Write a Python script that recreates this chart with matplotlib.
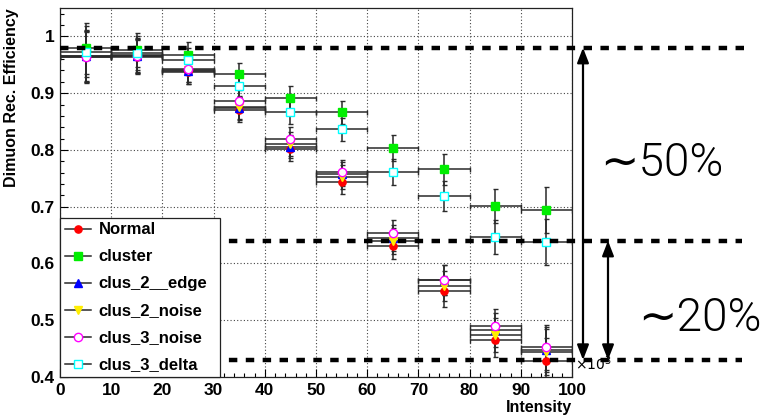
import matplotlib
matplotlib.use("Agg")
import matplotlib.pyplot as plt
from matplotlib.lines import Line2D
from matplotlib.ticker import MultipleLocator, FuncFormatter
import matplotlib.transforms as mtransforms

# ---------------- data ----------------
intensity = [5, 15, 25, 35, 45, 55, 65, 75, 85, 95]          # x10^3, bin centres
bin_half = [5, 5, 5, 5, 5, 5, 5, 5, 5, 5]
normal      = [0.963, 0.963, 0.938, 0.870, 0.802, 0.744, 0.630, 0.551, 0.465, 0.429]
cluster     = [0.979, 0.976, 0.968, 0.933, 0.892, 0.866, 0.804, 0.766, 0.701, 0.694]
clus2_edge  = [0.965, 0.966, 0.939, 0.873, 0.806, 0.757, 0.645, 0.571, 0.483, 0.448]
clus2_noise = [0.966, 0.967, 0.941, 0.875, 0.810, 0.752, 0.640, 0.560, 0.474, 0.444]
clus3_noise = [0.964, 0.965, 0.942, 0.886, 0.819, 0.761, 0.653, 0.571, 0.490, 0.452]
clus3_delta = [0.973, 0.970, 0.958, 0.913, 0.866, 0.836, 0.761, 0.719, 0.647, 0.638]
eff_err     = [0.045, 0.030, 0.022, 0.020, 0.021, 0.021, 0.023, 0.027, 0.030, 0.040]

series_names = ["Normal", "cluster", "clus_2__edge", "clus_2_noise", "clus_3_noise", "clus_3_delta"]
ref_levels = [0.98, 0.64, 0.43]
annot_texts = ["∼50%", "∼20%"]
x_ticks = [0, 10, 20, 30, 40, 50, 60, 70, 80, 90, 100]
y_ticks = [0.4, 0.5, 0.6, 0.7, 0.8, 0.9, 1.0]

# ---------------- styling ----------------
W, H = 766, 416
fig = plt.figure(figsize=(W / 100, H / 100), dpi=100)
ax_l, ax_r, ax_b, ax_t = 60, 572, 377, 8
ax = fig.add_axes([ax_l / W, 1 - ax_b / H, (ax_r - ax_l) / W, (ax_b - ax_t) / H])

font_b = dict(family="Liberation Sans", weight="bold")

styles = [
    dict(marker="o", mfc="red", mec="red", ms=5.2),
    dict(marker="s", mfc="#00ee00", mec="#00ee00", ms=5.2),
    dict(marker="^", mfc="blue", mec="blue", ms=5.2),
    dict(marker="v", mfc="#ffee00", mec="#ffee00", ms=5.2),
    dict(marker="o", mfc="white", mec="magenta", ms=6.0, mew=1.0),
    dict(marker="s", mfc="white", mec="cyan", ms=6.0, mew=1.0),
]
data = [normal, cluster, clus2_edge, clus2_noise, clus3_noise, clus3_delta]

ecol = "#2a2a2a"
for vals, st in zip(data, styles):
    ax.errorbar(intensity, vals, xerr=bin_half, yerr=eff_err, fmt="none",
                ecolor=ecol, elinewidth=1.1, capsize=1.8, capthick=1.0, zorder=3)
for vals, st in zip(data, styles):
    ax.plot(intensity, vals, linestyle="none", zorder=4, **st)

ax.set_xlim(0, 100)
ax.set_ylim(0.4, 1.05)
ax.set_xticks(x_ticks)
ax.set_yticks(y_ticks)
ax.xaxis.set_minor_locator(MultipleLocator(2))
ax.yaxis.set_minor_locator(MultipleLocator(0.02))
ax.yaxis.set_major_formatter(FuncFormatter(lambda v, p: "1" if abs(v - 1) < 1e-9 else f"{v:.1f}"))
ax.tick_params(which="both", direction="in", top=False, right=False)
ax.tick_params(which="major", length=6, width=0.8, pad=4)
ax.tick_params(which="minor", length=3, width=0.8)
for lab in ax.get_xticklabels() + ax.get_yticklabels():
    lab.set_fontfamily("Liberation Sans")
    lab.set_fontweight("bold")
    lab.set_fontsize(12.5)
ax.grid(True, which="major", linestyle=(0, (1, 2)), color="#444444", linewidth=0.8)
for s in ax.spines.values():
    s.set_linewidth(0.9)
    s.set_color("#222222")

ax.set_ylabel("Dimuon Rec. Efficiency", loc="top", fontsize=11.5, labelpad=8, **font_b)
ax.set_xlabel("Intensity", loc="right", fontsize=11.5, labelpad=2, **font_b)
ax.text(1.005, 0.035, r"$\times10^{3}$", transform=ax.transAxes, fontsize=10,
        ha="left", va="center", family="Liberation Sans")

# reference dashed lines extending beyond axes
trans = mtransforms.blended_transform_factory(ax.transAxes, ax.transData)
ext = [(744 - ax_l) / (ax_r - ax_l), (742 - ax_l) / (ax_r - ax_l), (742 - ax_l) / (ax_r - ax_l)]
for lev, e in zip(ref_levels, ext):
    ax.plot([0, e], [lev, lev], transform=trans, color="black", lw=3.2,
            dashes=(1.9, 1.9), clip_on=False, zorder=5, solid_capstyle="butt",
            dash_capstyle="butt")

# arrows
arrow_kw = dict(arrowstyle="<|-|>,head_length=0.9,head_width=0.35", color="black", lw=1.6,
                shrinkA=0, shrinkB=0)
ax.annotate("", xy=(583 / W, ref_levels[2]), xytext=(583 / W, ref_levels[0]),
            xycoords=("figure fraction", "data"), textcoords=("figure fraction", "data"),
            arrowprops=arrow_kw, annotation_clip=False)
ax.annotate("", xy=(608 / W, ref_levels[2]), xytext=(608 / W, ref_levels[1]),
            xycoords=("figure fraction", "data"), textcoords=("figure fraction", "data"),
            arrowprops=arrow_kw, annotation_clip=False)

fig.text(662 / W, 1 - 163 / H, annot_texts[0], fontsize=33, ha="center", va="center",
         family=["Roboto", "DejaVu Sans"], weight=300, color="black")
fig.text(700 / W, 1 - 318 / H, annot_texts[1], fontsize=33, ha="center", va="center",
         family=["Roboto", "DejaVu Sans"], weight=300, color="black")

# legend
handles = []
for name, st in zip(series_names, styles):
    handles.append(Line2D([0], [0], color=ecol, lw=1.1, **st))
leg = ax.legend(handles, series_names, loc="lower left",
                bbox_to_anchor=(0, 0, (220 - ax_l) / (ax_r - ax_l), (ax_b - 216) / (ax_b - ax_t)),
                mode="expand", borderaxespad=0, fancybox=False, framealpha=1,
                edgecolor="#222222", handlelength=1.6, handletextpad=0.45,
                labelspacing=0.72, borderpad=0.28, prop=dict(family="Liberation Sans", weight="bold", size=12))
leg.get_frame().set_linewidth(0.9)
leg.set_zorder(10)

fig.savefig("out.png", dpi=100)
